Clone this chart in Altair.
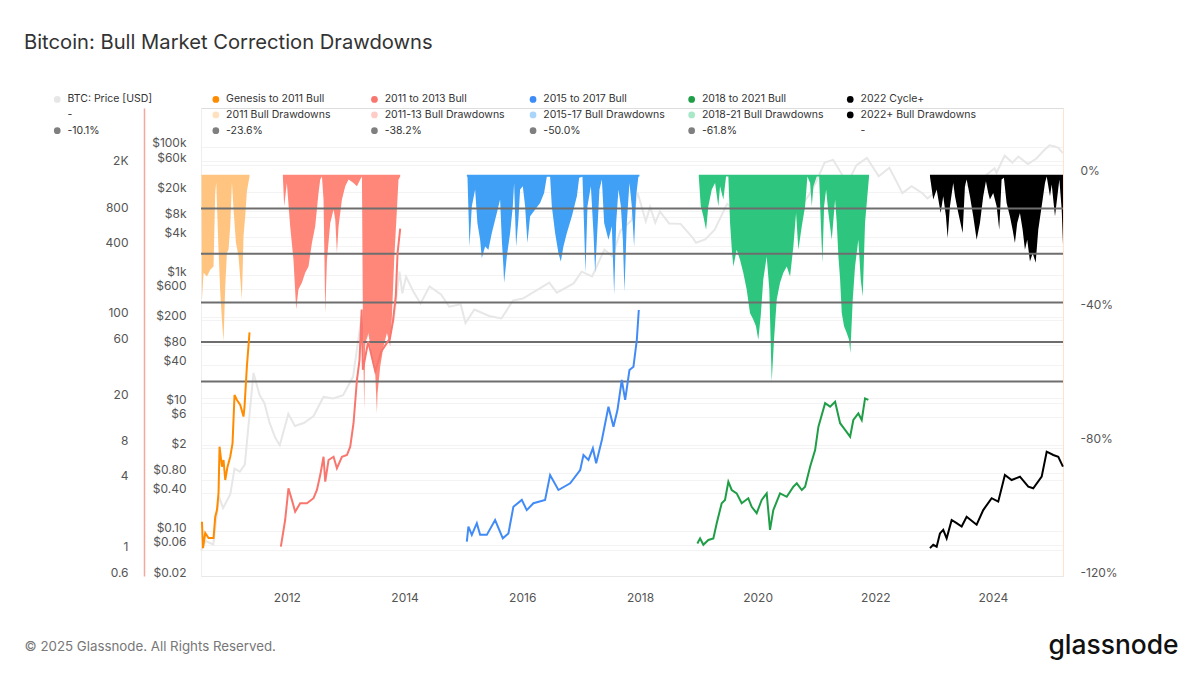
import altair as alt
import pandas as pd

# ---------------- data ----------------
# BTC price [USD] (grey line, $ axis)
grey_d = ["2010-07-17","2010-08-15","2010-10-01","2010-11-06","2010-12-01","2011-01-15","2011-02-10","2011-03-15","2011-04-15","2011-05-15","2011-06-08","2011-07-15","2011-08-15","2011-09-15","2011-10-20","2011-11-18","2012-01-10","2012-02-20","2012-04-15","2012-06-15","2012-08-15","2012-10-15","2012-12-15","2013-02-15","2013-04-09","2013-04-16","2013-05-20","2013-07-05","2013-09-15","2013-10-25","2013-11-30","2013-12-18","2014-01-10","2014-02-25","2014-04-10","2014-06-05","2014-08-15","2014-10-05","2014-12-15","2015-01-14","2015-03-10","2015-06-10","2015-08-25","2015-11-04","2016-01-05","2016-06-17","2016-08-03","2016-11-15","2017-01-04","2017-03-10","2017-05-25","2017-07-15","2017-09-01","2017-11-10","2017-12-17","2018-02-06","2018-03-05","2018-04-06","2018-05-05","2018-07-01","2018-09-10","2018-11-25","2018-12-15","2019-02-10","2019-04-10","2019-06-26","2019-08-15","2019-10-20","2019-12-18","2020-02-12","2020-03-13","2020-05-10","2020-07-20","2020-09-10","2020-11-20","2020-12-31","2021-02-20","2021-04-14","2021-06-22","2021-07-20","2021-09-06","2021-11-10","2022-01-22","2022-03-29","2022-05-12","2022-06-18","2022-08-14","2022-10-20","2022-11-21","2023-01-20","2023-03-10","2023-04-14","2023-06-15","2023-09-11","2023-11-15","2024-01-11","2024-01-23","2024-03-14","2024-05-01","2024-06-07","2024-08-05","2024-09-27","2024-11-12","2024-12-17","2025-01-20","2025-02-10","2025-03-10"]
grey_v = [0.05, 0.07, 0.062, 0.35, 0.23, 0.38, 0.95, 0.85, 1.1, 7, 29.6, 13.5, 10, 5, 2.9, 2.2, 6.8, 4.4, 4.9, 6.3, 12.5, 11.8, 13.3, 26, 230, 68, 123, 68, 133, 190, 1130, 520, 940, 550, 360, 665, 500, 320, 350, 178, 290, 230, 210, 400, 430, 760, 530, 740, 1130, 950, 2500, 1950, 4900, 7200, 19500, 6900, 11500, 6600, 9800, 6400, 6300, 3800, 3200, 3600, 5100, 12900, 10200, 8200, 6600, 10300, 4900, 8700, 9600, 10200, 18500, 29000, 57000, 63000, 32500, 29800, 52000, 67500, 35000, 47500, 29000, 19000, 24400, 19000, 15700, 21000, 20000, 30500, 25000, 25000, 35500, 46500, 39500, 73000, 57000, 71000, 54000, 66000, 88000, 106000, 102000, 97000, 80000]

# cycle price multiples (left-most axis); times as decimal years
orange_t = [2010.556, 2010.573, 2010.612, 2010.668, 2010.753, 2010.782, 2010.811, 2010.838, 2010.855, 2010.896, 2010.923, 2010.952, 2010.991, 2011.037, 2011.076, 2011.110, 2011.151, 2011.207, 2011.263, 2011.280, 2011.320, 2011.365]
orange_v = [1.75, 1.04, 1.40, 1.27, 1.27, 1.93, 2.20, 3.08, 7.68, 5.18, 5.91, 3.98, 5.18, 6.30, 8.21, 21.3, 19.3, 17.5, 13.9, 16.9, 37.2, 73.2]

red_t = [2011.898, 2011.971, 2012.027, 2012.085, 2012.141, 2012.226, 2012.340, 2012.452, 2012.510, 2012.566, 2012.622, 2012.651, 2012.707, 2012.792, 2012.849, 2012.934, 2013.019, 2013.075, 2013.131, 2013.189, 2013.233, 2013.27, 2013.29, 2013.38, 2013.50, 2013.60, 2013.75, 2013.80, 2013.85, 2013.88, 2013.925]
red_v = [1.07, 1.81, 3.38, 2.69, 2.13, 2.52, 2.52, 2.78, 3.27, 4.39, 6.30, 3.85, 5.91, 6.30, 5.02, 6.30, 6.52, 7.68, 12.2, 28.6, 42.4, 115, 35, 61, 34, 50, 65, 90, 150, 350, 565]

blue_t = [2015.058, 2015.085, 2015.143, 2015.228, 2015.284, 2015.398, 2015.539, 2015.670, 2015.765, 2015.850, 2015.993, 2016.077, 2016.190, 2016.388, 2016.473, 2016.614, 2016.813, 2016.983, 2017.039, 2017.124, 2017.199, 2017.255, 2017.352, 2017.464, 2017.549, 2017.617, 2017.691, 2017.748, 2017.821, 2017.889, 2017.946, 2017.980]
blue_v = [1.18, 1.59, 1.35, 1.70, 1.35, 1.35, 1.81, 1.26, 1.39, 2.35, 2.69, 2.20, 2.52, 2.69, 4.39, 3.27, 3.73, 4.85, 6.52, 5.91, 7.44, 5.54, 8.76, 16.9, 11.4, 15.8, 28.6, 19.3, 34.8, 37.2, 62.9, 113.6]

green_t = [2018.976, 2019.022, 2019.078, 2019.163, 2019.248, 2019.305, 2019.390, 2019.446, 2019.503, 2019.560, 2019.645, 2019.730, 2019.842, 2019.900, 2019.985, 2020.070, 2020.155, 2020.211, 2020.267, 2020.381, 2020.495, 2020.607, 2020.665, 2020.750, 2020.806, 2020.891, 2020.976, 2021.032, 2021.146, 2021.231, 2021.316, 2021.401, 2021.486, 2021.571, 2021.626, 2021.711, 2021.769, 2021.825, 2021.881]
green_v = [1.14, 1.26, 1.11, 1.22, 1.26, 1.70, 2.52, 2.69, 3.85, 3.27, 3.06, 2.52, 2.78, 2.35, 2.07, 2.69, 3.06, 1.49, 2.20, 3.06, 2.86, 3.49, 3.73, 3.27, 3.49, 5.18, 7.19, 11.4, 18.1, 16.9, 18.6, 12.2, 10.7, 9.35, 13.0, 14.8, 13.0, 19.9, 19.3]

black_t = [2022.929, 2022.985, 2023.043, 2023.099, 2023.155, 2023.213, 2023.298, 2023.383, 2023.468, 2023.553, 2023.723, 2023.835, 2023.978, 2024.090, 2024.203, 2024.317, 2024.458, 2024.600, 2024.684, 2024.827, 2024.912, 2025.024, 2025.109, 2025.188]
black_v = [1.04, 1.11, 1.07, 1.39, 1.49, 1.26, 1.81, 1.70, 1.59, 1.93, 1.65, 2.20, 2.78, 2.60, 4.39, 3.98, 4.25, 3.49, 3.38, 4.25, 6.96, 6.52, 6.30, 5.18]

# drawdowns [%] (right axis)
odd_t = [2010.548, 2010.556, 2010.583, 2010.641, 2010.697, 2010.753, 2010.782, 2010.799, 2010.833, 2010.867, 2010.896, 2010.923, 2010.952, 2010.981, 2011.008, 2011.037, 2011.066, 2011.093, 2011.134, 2011.178, 2011.235, 2011.263, 2011.292, 2011.320, 2011.365]
odd_v = [-2.0, -37.3, -29.3, -30.4, -28.4, -27.4, -5.3, -2.3, -20.3, -35.2, -43.5, -49.8, -33.4, -23.3, -22.4, -15.4, -2.3, -10.4, -20.3, -24.4, -37.3, -18.4, -12.4, -5.0, -0.5]

rdd_t = [2011.932, 2011.954, 2012.000, 2012.056, 2012.112, 2012.158, 2012.197, 2012.255, 2012.311, 2012.367, 2012.425, 2012.481, 2012.537, 2012.566, 2012.595, 2012.622, 2012.651, 2012.680, 2012.736, 2012.792, 2012.821, 2012.849, 2012.877, 2012.934, 2012.990, 2013.047, 2013.131, 2013.189, 2013.245, 2013.274, 2013.291, 2013.313, 2013.330, 2013.386, 2013.444, 2013.500, 2013.529, 2013.539, 2013.585, 2013.641, 2013.699, 2013.755, 2013.784, 2013.823, 2013.869, 2013.896, 2013.925]
rdd_v = [-0.5, -9.4, -2.4, -15.4, -25.4, -40.2, -34.2, -32.3, -29.3, -27.4, -20.4, -15.4, -5.4, -1.4, -0.5, -7.4, -41.3, -25.4, -14.4, -10.4, -13.4, -23.4, -15.4, -7.4, -3.4, -1.4, -2.4, -3.4, -1.4, -0.5, -45.0, -70.3, -50.3, -47.3, -55.3, -59.3, -71.3, -65.3, -57.3, -51.3, -47.3, -51.3, -42.3, -25.4, -10.4, -1.4, -0.5]

bdd_t = [2015.058, 2015.069, 2015.103, 2015.143, 2015.199, 2015.238, 2015.284, 2015.313, 2015.369, 2015.425, 2015.483, 2015.568, 2015.624, 2015.653, 2015.680, 2015.692, 2015.738, 2015.794, 2015.840, 2015.862, 2015.896, 2015.935, 2015.964, 2016.010, 2016.049, 2016.088, 2016.134, 2016.219, 2016.303, 2016.371, 2016.417, 2016.473, 2016.502, 2016.558, 2016.614, 2016.655, 2016.699, 2016.757, 2016.842, 2016.927, 2016.966, 2017.022, 2017.051, 2017.073, 2017.107, 2017.165, 2017.209, 2017.238, 2017.267, 2017.311, 2017.352, 2017.391, 2017.464, 2017.522, 2017.561, 2017.595, 2017.634, 2017.675, 2017.709, 2017.736, 2017.776, 2017.821, 2017.861, 2017.900, 2017.934, 2017.973, 2017.991]
bdd_v = [-0.5, -0.6, -21.4, -9.4, -4.4, -14.4, -19.4, -24.9, -21.4, -22.4, -17.4, -11.4, -7.4, -19.4, -27.4, -32.3, -24.4, -17.4, -9.4, -2.4, -21.4, -13.4, -4.4, -3.4, -9.4, -20.4, -12.4, -10.4, -8.4, -5.4, -0.6, -0.6, -9.4, -17.4, -23.4, -25.9, -21.4, -17.4, -12.4, -6.4, -0.9, -0.6, -16.4, -29.3, -9.4, -3.4, -17.4, -29.3, -19.4, -4.4, -1.4, -14.4, -19.4, -15.4, -35.8, -14.4, -4.4, -9.4, -19.4, -34.9, -14.4, -2.4, -9.4, -21.4, -6.4, -0.6, -0.5]

gdd_t = [2019.000, 2019.034, 2019.078, 2019.124, 2019.163, 2019.221, 2019.277, 2019.333, 2019.362, 2019.418, 2019.464, 2019.503, 2019.532, 2019.566, 2019.588, 2019.645, 2019.701, 2019.757, 2019.815, 2019.871, 2019.927, 2019.973, 2020.012, 2020.053, 2020.097, 2020.155, 2020.199, 2020.240, 2020.279, 2020.325, 2020.381, 2020.437, 2020.495, 2020.551, 2020.607, 2020.653, 2020.692, 2020.750, 2020.806, 2020.845, 2020.891, 2020.920, 2020.947, 2021.005, 2021.044, 2021.073, 2021.100, 2021.129, 2021.163, 2021.202, 2021.259, 2021.316, 2021.344, 2021.372, 2021.401, 2021.429, 2021.468, 2021.514, 2021.553, 2021.575, 2021.616, 2021.655, 2021.711, 2021.752, 2021.786, 2021.825, 2021.864, 2021.893]
gdd_v = [-0.5, -9.4, -12.4, -16.4, -9.4, -4.4, -2.4, -9.4, -3.4, -7.4, -0.5, -0.5, -14.4, -23.4, -27.4, -22.4, -25.4, -29.3, -34.3, -41.3, -43.3, -45.3, -49.3, -42.3, -31.3, -24.4, -34.3, -61.8, -49.3, -37.3, -32.3, -29.3, -27.4, -30.4, -21.4, -11.4, -22.4, -15.4, -9.4, -0.5, -2.4, -9.4, -3.4, -0.5, -0.5, -14.4, -26.3, -9.4, -4.4, -11.4, -19.4, -7.4, -14.4, -24.4, -31.3, -41.3, -45.3, -47.3, -49.3, -53.3, -37.3, -27.4, -19.4, -31.3, -36.3, -14.4, -6.4, -0.5]

kdd_t = [2022.929, 2022.985, 2023.043, 2023.111, 2023.155, 2023.201, 2023.230, 2023.269, 2023.325, 2023.355, 2023.399, 2023.485, 2023.524, 2023.553, 2023.609, 2023.665, 2023.723, 2023.779, 2023.835, 2023.881, 2023.920, 2023.949, 2024.005, 2024.063, 2024.107, 2024.147, 2024.186, 2024.232, 2024.288, 2024.334, 2024.373, 2024.412, 2024.458, 2024.504, 2024.543, 2024.582, 2024.628, 2024.674, 2024.725, 2024.769, 2024.827, 2024.883, 2024.912, 2024.968, 2024.997, 2025.053, 2025.093, 2025.127, 2025.167, 2025.189]
kdd_v = [-0.5, -7.4, -4.4, -11.4, -6.4, -12.4, -18.9, -9.4, -2.4, -6.4, -10.4, -17.4, -3.4, -1.4, -6.4, -12.4, -19.4, -14.4, -6.4, -1.9, -5.4, -7.4, -5.4, -9.4, -16.4, -1.4, -0.9, -8.4, -12.4, -16.4, -20.4, -14.4, -11.4, -16.4, -22.4, -19.4, -25.9, -23.4, -26.3, -16.4, -9.4, -2.4, -0.5, -6.4, -2.9, -12.4, -6.4, -1.4, -10.4, -20.9]

levels = [-10.1, -23.6, -38.2, -50.0, -61.8]

price_ticks = [0.02, 0.06, 0.1, 0.4, 0.8, 2, 6, 10, 40, 80, 200, 600, 1000, 4000, 8000, 20000, 60000, 100000]
mult_ticks = [0.6, 1, 4, 8, 20, 60, 100, 400, 800, 2000]
dd_ticks = [0, -40, -80, -120]
year_ticks = [2012, 2014, 2016, 2018, 2020, 2022, 2024]

# legend entries listed column by column (3 rows per column)
legend_entries = ["BTC: Price [USD]", "-", "-10.1%",
                  "Genesis to 2011 Bull", "2011 Bull Drawdowns", "-23.6%",
                  "2011 to 2013 Bull", "2011-13 Bull Drawdowns", "-38.2%",
                  "2015 to 2017 Bull", "2015-17 Bull Drawdowns", "-50.0%",
                  "2018 to 2021 Bull", "2018-21 Bull Drawdowns", "-61.8%",
                  "2022 Cycle+", "2022+ Bull Drawdowns", "- "]
legend_colors = ["#e6e6e6", "transparent", "#7f7f7f",
                 "#ff8c00", "#ffe1bf", "#7f7f7f",
                 "#f8766d", "#ffcdc8", "#7f7f7f",
                 "#3d8bf7", "#a9d5fb", "#7f7f7f",
                 "#1f9e47", "#a6e8c8", "#7f7f7f",
                 "#000000", "#000000", "transparent"]

# ---------------- helpers ----------------
def to_date(v):
    y = int(v)
    start = pd.Timestamp(year=y, month=1, day=1)
    end = pd.Timestamp(year=y + 1, month=1, day=1)
    return start + (end - start) * (v - y)

def frame(ts, vs):
    return pd.DataFrame({"date": [to_date(t) for t in ts], "v": vs})

FONT = "Inter"

x_enc = alt.X(
    "date:T",
    scale=alt.Scale(domain=[alt.DateTime(year=2010, month=7, date=17), alt.DateTime(year=2025, month=3, date=11)]),
    axis=alt.Axis(values=[alt.DateTime(year=y, month=1, date=1) for y in year_ticks], format="%Y",
                  ticks=False, grid=False, domain=True, domainColor="#e8e8e8", labelPadding=16,
                  labelFont=FONT, labelFontSize=12, labelColor="#555555", title=None),
)

y_price = alt.Y(
    "v:Q",
    scale=alt.Scale(type="log", domain=[0.02, 406000], nice=False, zero=False),
    axis=alt.Axis(orient="left", offset=0, values=price_ticks,
                  labelExpr="datum.value >= 1000 ? '$' + format(datum.value / 1000, 'd') + 'k' : (datum.value >= 1 ? '$' + format(datum.value, 'd') : '$' + format(datum.value, '.2f'))",
                  ticks=False, domain=True, domainColor="#eeeeee", grid=True, gridColor="#f3f3f3",
                  labelPadding=15, labelOverlap=False, labelFlush=False, labelBaseline="alphabetic",
                  labelFont=FONT, labelFontSize=12, labelColor="#555555",
                  title="© 2025 Glassnode. All Rights Reserved.", titleX=-177, titleY=538, titleAngle=0,
                  titleAlign="left", titleBaseline="middle", titleFont=FONT, titleFontSize=13.3,
                  titleFontWeight="normal", titleColor="#777777"),
)

y_mult = alt.Y(
    "v:Q",
    scale=alt.Scale(type="log", domain=[0.6, 6100], nice=False, zero=False),
    axis=alt.Axis(orient="left", offset=57, values=mult_ticks,
                  labelExpr="datum.value >= 1000 ? format(datum.value / 1000, 'd') + 'K' : (datum.value < 1 ? format(datum.value, '.1f') : format(datum.value, 'd'))",
                  ticks=False, domain=True, domainColor="#f4a79d", domainWidth=1.5, grid=True, gridColor="#f3f3f3",
                  labelPadding=16, labelOverlap=False, labelFlush=False, labelBaseline="alphabetic",
                  labelFont=FONT, labelFontSize=12, labelColor="#555555", title=None),
)

y_dd = alt.Y(
    "v:Q",
    scale=alt.Scale(domain=[-120, 20], nice=False, zero=False),
    axis=alt.Axis(orient="right", values=dd_ticks, labelExpr="datum.value + '%'",
                  ticks=False, domain=True, domainColor="#fde4cf", grid=False,
                  labelPadding=17, labelOverlap=False, labelFlush=False, labelBaseline="alphabetic",
                  labelFont=FONT, labelFontSize=12, labelColor="#555555",
                  title="glassnode", titleX=-15, titleY=537, titleAngle=0, titleAlign="left",
                  titleBaseline="middle", titleFont=FONT, titleFontSize=26.4, titleFontWeight=500,
                  titleColor="#111111"),
)

# ---------------- layers ----------------
grey_df = pd.DataFrame({"date": pd.to_datetime(grey_d), "v": grey_v})
price_layer = alt.Chart(grey_df).mark_line(color="#e7e7e7", strokeWidth=2).encode(x=x_enc, y=y_price)

dd_specs = [(odd_t, odd_v, "#ffc580"), (rdd_t, rdd_v, "#ff877a"), (bdd_t, bdd_v, "#3fa0f5"),
            (gdd_t, gdd_v, "#2ec67f"), (kdd_t, kdd_v, "#000000")]
areas = [alt.Chart(frame(t, v)).mark_area(color=c, opacity=1, interpolate="linear")
         .encode(x=x_enc, y=y_dd, y2=alt.datum(0)) for t, v, c in dd_specs]
rules = alt.Chart(pd.DataFrame({"v": levels})).mark_rule(color="#6e6e6e", strokeWidth=2).encode(y=y_dd)

legend_df = pd.DataFrame({"entry": legend_entries, "date": [to_date(2016.0)] * len(legend_entries), "v": [0] * len(legend_entries)})
legend_layer = alt.Chart(legend_df).mark_point(filled=True, opacity=0).encode(
    x=x_enc, y=y_dd,
    color=alt.Color("entry:N", scale=alt.Scale(domain=legend_entries, range=legend_colors),
                    legend=alt.Legend(title=None, orient="none", legendX=-149, legendY=-14, columns=6,
                                      gridAlign="all", columnPadding=20.6, rowPadding=4.7, padding=0,
                                      symbolType="circle", symbolSize=45, symbolStrokeWidth=0,
                                      symbolOpacity=1, labelOffset=5, labelFont=FONT, labelFontSize=10.5,
                                      labelColor="#333333", labelLimit=300)),
)
dd_layer = alt.layer(*areas, rules, legend_layer)

line_specs = [(orange_t, orange_v, "#ff8c00"), (red_t, red_v, "#f8766d"), (blue_t, blue_v, "#428bf7"),
              (green_t, green_v, "#1f9e47"), (black_t, black_v, "#000000")]
mult_layer = alt.layer(*[alt.Chart(frame(t, v)).mark_line(color=c, strokeWidth=2).encode(x=x_enc, y=y_mult)
                         for t, v, c in line_specs])

chart = alt.layer(price_layer, dd_layer, mult_layer).resolve_scale(y="independent").properties(
    width=862, height=468,
    autosize=alt.AutoSizeParams(type="none"),
    padding={"left": 193, "top": 100, "right": 133, "bottom": 93},
    title=alt.TitleParams("Bitcoin: Bull Market Correction Drawdowns", anchor="start", frame="group",
                          dx=-177, offset=41, font=FONT, fontSize=20.2, fontWeight="normal", color="#333333"),
).configure_view(stroke="#efefef").configure(background="white")

chart.save("out.html", embed_options={"renderer": "svg", "actions": False})
